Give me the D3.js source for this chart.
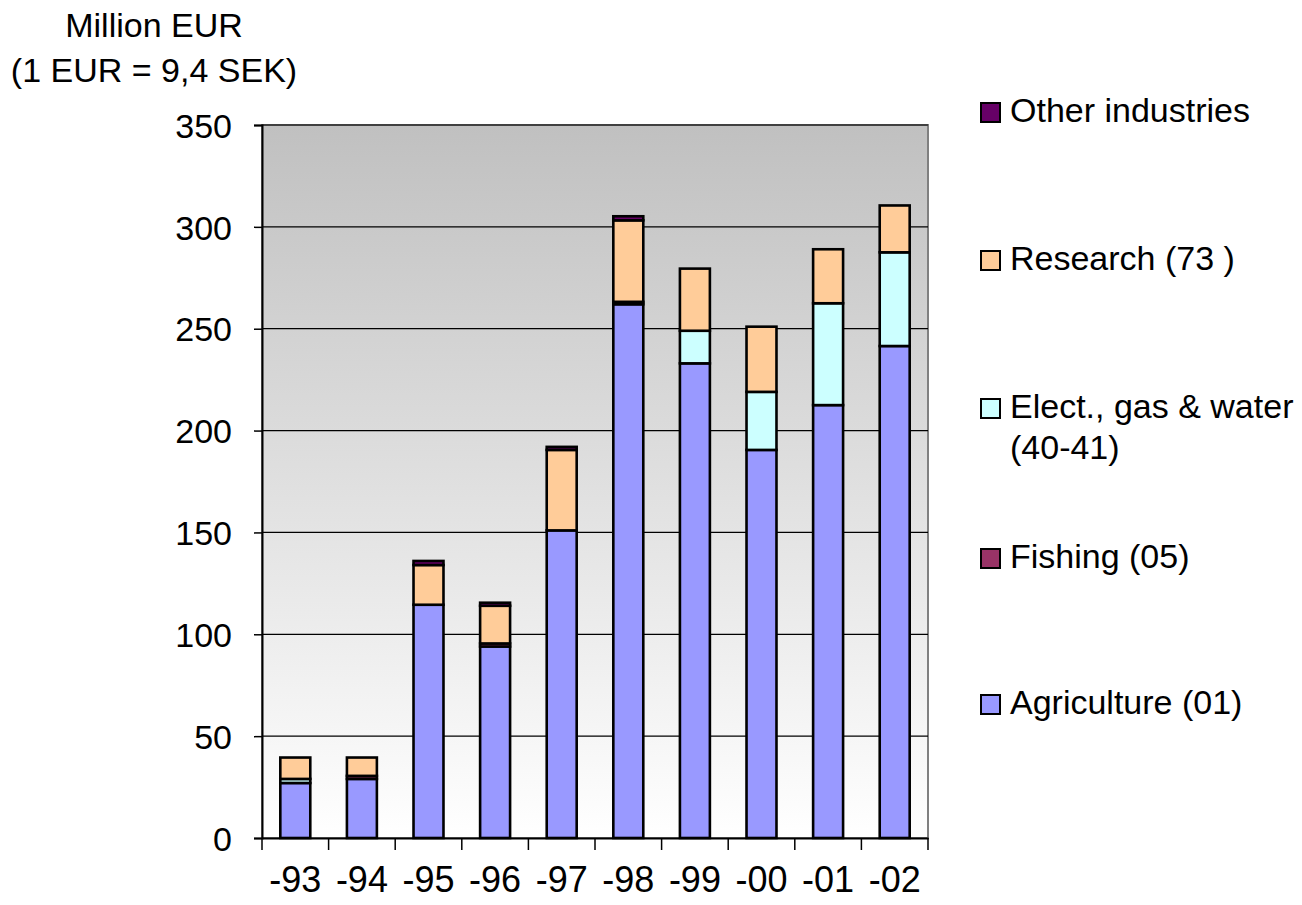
<!DOCTYPE html>
<html>
<head>
<meta charset="utf-8">
<script src="https://cdn.jsdelivr.net/npm/d3@7"></script>
<style>
  body { margin: 0; background: #fff; }
  text { font-family: 'Liberation Sans', Arial, sans-serif; fill: #000; }
</style>
</head>
<body>
<div id="chart"></div>
<script>
const years = ['-93', '-94', '-95', '-96', '-97', '-98', '-99', '-00', '-01', '-02']
const agriculture = [27, 29, 114.5, 94, 151, 262, 233, 190.5, 212.5, 241.5]
const fishing = [0, 1.5, 0, 1.5, 0, 1.2, 0, 0, 0, 0]
const elect = [2, 0, 0, 0, 0, 0, 16, 28.5, 50, 46]
const research = [10.5, 9, 19.5, 18.5, 39.5, 40, 30.5, 32, 26.5, 23]
const other = [0, 0, 2, 1.5, 1.5, 2, 0, 0, 0, 0]
const yTicks = [0, 50, 100, 150, 200, 250, 300, 350]

const series = [
  { key: 'agri', name: ['Agriculture (01)'], values: agriculture, color: '#9999ff' },
  { key: 'fish', name: ['Fishing (05)'], values: fishing, color: '#993366' },
  { key: 'elect', name: ['Elect., gas & water', '(40-41)'], values: elect, color: '#ccffff' },
  { key: 'res', name: ['Research (73 )'], values: research, color: '#ffcc99' },
  { key: 'other', name: ['Other industries'], values: other, color: '#660066' }
]

const options = {
  width: 1302,
  height: 905,
  left: 262,
  right: 928,
  top: 125,
  bottom: 838
}

const svg = d3.select('#chart').append('svg')
  .attr('width', options.width)
  .attr('height', options.height)

// 背景渐变
const grad = svg.append('defs').append('linearGradient')
  .attr('id', 'bg').attr('x1', 0).attr('y1', 0).attr('x2', 0).attr('y2', 1)
grad.append('stop').attr('offset', '0%').attr('stop-color', '#c0c0c0')
grad.append('stop').attr('offset', '100%').attr('stop-color', '#ffffff')

const xScale = d3.scaleBand()
  .domain(years)
  .range([options.left, options.right])
  .paddingInner(0.55)
  .paddingOuter(0.275)
const bandScale = d3.scaleBand().domain(years).range([options.left, options.right])
const yScale = d3.scaleLinear().domain([0, 350]).range([options.bottom, options.top])

svg.append('rect')
  .attr('x', options.left)
  .attr('y', options.top)
  .attr('width', options.right - options.left)
  .attr('height', options.bottom - options.top)
  .attr('fill', 'url(#bg)')
  .attr('stroke', '#808080')
  .attr('stroke-width', 2)

// 网格线
svg.append('g').selectAll('line')
  .data(yTicks.slice(1))
  .enter()
  .append('line')
  .attr('x1', options.left).attr('x2', options.right)
  .attr('y1', d => yScale(d)).attr('y2', d => yScale(d))
  .attr('stroke', '#000').attr('stroke-width', 1.2)

// 堆叠数据
const table = years.map((y, i) => {
  const row = { year: y }
  series.forEach(s => { row[s.key] = s.values[i] })
  return row
})
const stacked = d3.stack().keys(series.map(s => s.key))(table)

const layers = svg.append('g').selectAll('g')
  .data(stacked)
  .enter()
  .append('g')
  .attr('fill', (d, i) => series[i].color)

layers.selectAll('rect')
  .data(d => d.filter(p => p[1] - p[0] > 0))
  .enter()
  .append('rect')
  .attr('x', d => xScale(d.data.year))
  .attr('width', xScale.bandwidth())
  .attr('y', d => yScale(d[1]))
  .attr('height', d => yScale(d[0]) - yScale(d[1]))
  .attr('stroke', '#000')
  .attr('stroke-width', 2.6)

// 坐标轴
const yAxis = d3.axisLeft(yScale).tickValues(yTicks).tickSize(8).tickPadding(22)
const yAxisG = svg.append('g')
  .attr('transform', `translate(${options.left},0)`)
  .call(yAxis)
yAxisG.select('.domain').attr('stroke', '#000').attr('stroke-width', 2)
yAxisG.selectAll('.tick line').attr('stroke-width', 1.5)
yAxisG.selectAll('.tick text')
  .attr('font-size', 34)
  .attr('font-family', "'Liberation Sans', Arial, sans-serif")
  .attr('dy', '0.36em')

const xAxisG = svg.append('g')
  .attr('transform', `translate(0,${options.bottom})`)
  .call(d3.axisBottom(bandScale).tickSize(0).tickPadding(0))
xAxisG.select('.domain').attr('stroke', '#000').attr('stroke-width', 2)
xAxisG.selectAll('.tick text')
  .attr('font-size', 36)
  .attr('font-family', "'Liberation Sans', Arial, sans-serif")
  .attr('y', 54)
  .attr('dy', 0)

// x 轴分隔刻度
const boundaries = years.map(y => bandScale(y)).concat([options.right])
xAxisG.append('g').selectAll('line')
  .data(boundaries)
  .enter()
  .append('line')
  .attr('x1', d => d).attr('x2', d => d)
  .attr('y1', 0).attr('y2', 12)
  .attr('stroke', '#000').attr('stroke-width', 1.5)

// 标题
const title = svg.append('text')
  .attr('text-anchor', 'middle')
  .attr('font-size', 34)
title.append('tspan').attr('x', 154).attr('y', 37).text('Million EUR')
title.append('tspan').attr('x', 154).attr('y', 82).text('(1 EUR = 9,4 SEK)')

// 图例
const legendRows = series.slice().reverse()
const legendY = [122, 270, 418, 568, 714]
const legend = svg.append('g').selectAll('g')
  .data(legendRows)
  .enter()
  .append('g')
  .attr('transform', (d, i) => `translate(981,${legendY[i]})`)
legend.append('rect')
  .attr('x', 0).attr('y', -19)
  .attr('width', 19).attr('height', 19)
  .attr('fill', d => d.color)
  .attr('stroke', '#000').attr('stroke-width', 2)
legend.append('text')
  .attr('font-size', 34)
  .selectAll('tspan')
  .data(d => d.name)
  .enter()
  .append('tspan')
  .attr('x', 29)
  .attr('y', (d, i) => i * 41)
  .text(d => d)
</script>
</body>
</html>
